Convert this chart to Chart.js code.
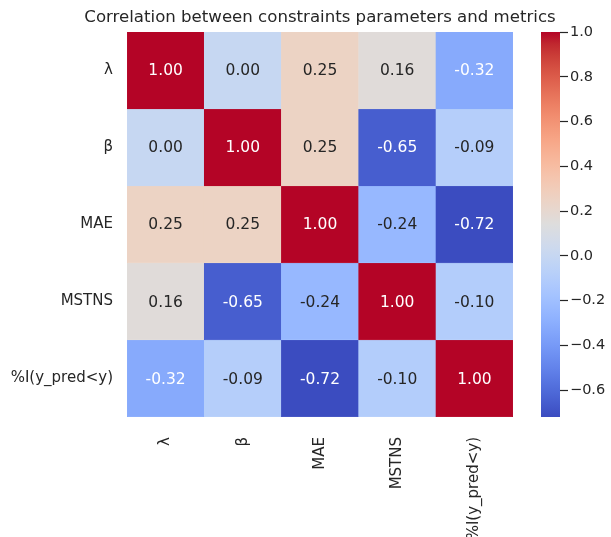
<!DOCTYPE html>
<html>
<head>
<meta charset="utf-8">
<script src="https://cdn.jsdelivr.net/npm/chart.js@4.4.0/dist/chart.umd.min.js"></script>
<style>
  html, body { margin: 0; background: #fff; overflow: hidden; }
  #wrap { position: relative; width: 611px; height: 537px; overflow: hidden; }
  #heat { position: absolute; left: 0; top: 0; }
  #cbar { position: absolute; left: 530px; top: 0; }
</style>
</head>
<body>
<div id="wrap">
  <canvas id="heat" width="640" height="537"></canvas>
  <canvas id="cbar" width="81" height="537"></canvas>
</div>
<script>
// labels (same for rows and columns)
const labels = ['λ', 'β', 'MAE', 'MSTNS', '%I(y_pred<y)'];

// correlation rows
const lambdaRow    = [1.00, 0.00, 0.25, 0.16, -0.32];
const betaRow      = [0.00, 1.00, 0.25, -0.65, -0.09];
const maeRow       = [0.25, 0.25, 1.00, -0.24, -0.72];
const mstnsRow     = [0.16, -0.65, -0.24, 1.00, -0.10];
const indicatorRow = [-0.32, -0.09, -0.72, -0.10, 1.00];
const rows = [lambdaRow, betaRow, maeRow, mstnsRow, indicatorRow];

// colour scale limits and colorbar ticks
const vmin = -0.72;
const vmax = 1.00;
const cbarTicks = [-0.6, -0.4, -0.2, 0.0, 0.2, 0.4, 0.6, 0.8, 1.0];

const textColor = '#262626';
const fontFamily = '"DejaVu Sans", sans-serif';

// matplotlib coolwarm, 33 evenly spaced points
const coolwarm = [
  [59,76,192],[68,90,204],[77,104,215],[87,117,225],[98,130,234],[108,142,241],
  [119,154,247],[130,165,251],[141,176,254],[152,185,255],[163,194,255],[174,201,253],
  [184,208,249],[194,213,244],[204,217,238],[213,219,230],[221,221,221],[229,216,209],
  [236,211,197],[241,204,185],[245,196,173],[247,187,160],[247,177,148],[247,166,135],
  [244,154,123],[241,141,111],[236,127,99],[229,112,88],[222,96,77],[213,80,66],
  [203,62,56],[192,40,47],[180,4,38]
];

function cmapFrac(t) {
  t = Math.min(1, Math.max(0, t)) * 32;
  const i = Math.min(31, Math.floor(t));
  const f = t - i;
  const a = coolwarm[i], b = coolwarm[i + 1];
  return a.map((c, k) => Math.round(c + (b[k] - c) * f));
}

function cmap(v) {
  return cmapFrac((v - vmin) / (vmax - vmin));
}

function rgb(c) {
  return 'rgb(' + c[0] + ',' + c[1] + ',' + c[2] + ')';
}

function luminance(c) {
  const lin = c.map(x => {
    x = x / 255;
    return x <= 0.03928 ? x / 12.92 : Math.pow((x + 0.055) / 1.055, 2.4);
  });
  return 0.2126 * lin[0] + 0.7152 * lin[1] + 0.0722 * lin[2];
}

// writes the value in the middle of every cell
const annotPlugin = {
  id: 'annot',
  afterDatasetsDraw(chart) {
    const ctx = chart.ctx;
    ctx.save();
    ctx.font = '15.5px ' + fontFamily;
    ctx.textAlign = 'center';
    ctx.textBaseline = 'middle';
    chart.data.datasets.forEach((ds, i) => {
      const meta = chart.getDatasetMeta(i);
      meta.data.forEach((bar, j) => {
        const v = rows[i][j];
        ctx.fillStyle = luminance(cmap(v)) > 0.42 ? textColor : '#ffffff';
        ctx.fillText(v.toFixed(2), bar.x, (bar.y + bar.base) / 2 + 1);
      });
    });
    ctx.restore();
  }
};

new Chart(document.getElementById('heat'), {
  type: 'bar',
  data: {
    labels: labels,
    datasets: rows.map((row, i) => ({
      data: row.map(() => [i, i + 1]),
      backgroundColor: row.map(v => rgb(cmap(v))),
      borderColor: row.map(v => rgb(cmap(v))),
      borderWidth: 0.5,
      barPercentage: 1,
      categoryPercentage: 1,
      grouped: false
    }))
  },
  options: {
    responsive: false,
    animation: false,
    layout: { padding: 0 },
    plugins: {
      legend: { display: false },
      tooltip: { enabled: false },
      title: {
        display: true,
        text: 'Correlation between constraints parameters and metrics',
        color: textColor,
        font: { family: fontFamily, size: 16.6, weight: 'normal' },
        padding: { top: 8, bottom: 4 }
      }
    },
    scales: {
      x: {
        grid: { display: false, drawTicks: false },
        border: { display: false },
        ticks: {
          color: textColor,
          font: { family: fontFamily, size: 15 },
          maxRotation: 90,
          minRotation: 90,
          padding: 20
        },
        afterFit: s => { s.height = 120; }
      },
      y: {
        min: 0,
        max: 5,
        reverse: true,
        grid: { display: false, drawTicks: false },
        border: { display: false },
        ticks: {
          color: textColor,
          font: { family: fontFamily, size: 15 },
          padding: 14,
          callback: v => labels[Math.floor(v)]
        },
        afterBuildTicks: s => { s.ticks = labels.map((_, i) => ({ value: i + 0.5 })); },
        afterFit: s => { s.width = 127; }
      },
      // empty right axis, keeps the title centred over the cells
      yPad: {
        position: 'right',
        grid: { display: false, drawTicks: false },
        border: { display: false },
        ticks: { display: false },
        afterFit: s => { s.width = 127; }
      }
    }
  },
  plugins: [annotPlugin]
});

function cbarGradient(chart) {
  const area = chart.chartArea;
  if (!area) return rgb(cmap(0));
  const y = chart.scales.y;
  const g = chart.ctx.createLinearGradient(0, y.getPixelForValue(vmin), 0, y.getPixelForValue(vmax));
  coolwarm.forEach((c, k) => g.addColorStop(k / 32, rgb(c)));
  return g;
}

function fmtTick(v) {
  const s = Math.abs(v).toFixed(1);
  return v < -1e-9 ? '\u2212' + s : s;
}

new Chart(document.getElementById('cbar'), {
  type: 'bar',
  data: {
    labels: [''],
    datasets: [{
      data: [[vmin, vmax]],
      backgroundColor: ctx => cbarGradient(ctx.chart),
      borderWidth: 0,
      barPercentage: 1,
      categoryPercentage: 1
    }]
  },
  options: {
    responsive: false,
    animation: false,
    layout: { padding: { left: 11, right: 0, top: 32, bottom: 120 } },
    plugins: {
      legend: { display: false },
      tooltip: { enabled: false }
    },
    scales: {
      x: { display: false },
      y: {
        position: 'right',
        min: vmin,
        max: vmax,
        grid: {
          drawOnChartArea: false,
          drawTicks: true,
          tickLength: 8,
          tickWidth: 1.2,
          tickColor: textColor
        },
        border: { display: false },
        ticks: {
          color: textColor,
          font: { family: fontFamily, size: 14.5 },
          padding: 2,
          callback: v => fmtTick(v)
        },
        afterBuildTicks: s => { s.ticks = cbarTicks.map(v => ({ value: v })); },
        afterFit: s => { s.width = 51; }
      }
    }
  }
});
</script>
</body>
</html>
